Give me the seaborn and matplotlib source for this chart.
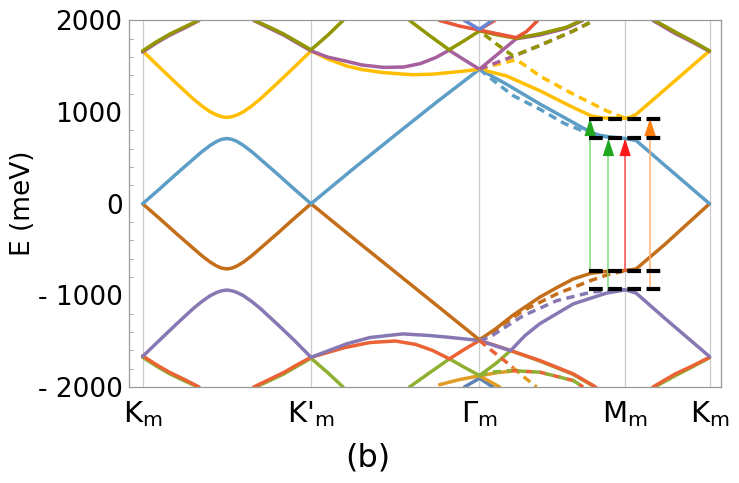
import numpy as np
import matplotlib
matplotlib.use('Agg')
import matplotlib.pyplot as plt
import seaborn as sns

# high-symmetry points along the path (units of |K|)
kpts = [0, 1, 2, 2.866, 3.366]
klabels = [r'K$_{\rm m}$', r"K'$_{\rm m}$", r'$\Gamma_{\rm m}$', r'M$_{\rm m}$', r'K$_{\rm m}$']
yticks = [-2000, -1000, 0, 1000, 2000]
ylabels = ['- 2000', '- 1000', '0', '1000', '2000']

# ---- solid bands (k, E in meV) ----
blue7 = [(0, 0), (0.1, 160), (0.2, 325), (0.3, 485), (0.35, 565), (0.4, 635), (0.44, 680), (0.47, 703),
         (0.5, 712), (0.53, 703), (0.56, 680), (0.6, 635), (0.65, 565), (0.7, 485), (0.8, 325),
         (0.9, 160), (1, 0), (1.25, 380), (1.5, 750), (1.75, 1115), (2, 1468), (2.16, 1305),
         (2.36, 1087), (2.557, 886), (2.663, 777), (2.72, 745), (2.77, 730), (2.866, 712),
         (2.93, 690), (3.1, 420), (3.366, 0)]
yellow8 = [(0, 1668), (0.1, 1490), (0.2, 1315), (0.3, 1145), (0.35, 1070), (0.4, 1005), (0.44, 968),
           (0.47, 950), (0.5, 942), (0.53, 950), (0.56, 968), (0.6, 1005), (0.65, 1070), (0.7, 1145),
           (0.8, 1315), (0.9, 1490), (1, 1668), (1.1, 1580), (1.21, 1504), (1.3, 1465), (1.43, 1431),
           (1.6, 1408), (1.72, 1414), (1.82, 1431), (1.92, 1450), (2, 1468), (2.16, 1395),
           (2.36, 1232), (2.557, 1050), (2.66, 962), (2.71, 942), (2.755, 935), (2.866, 932),
           (2.9, 948), (2.93, 975), (3.1, 1245), (3.366, 1668)]
magenta9_a = [(0, 1655), (0.08, 1752), (0.16, 1838), (0.25, 1918), (0.335, 2000)]
magenta9_b = [(0.66, 2000), (0.75, 1918), (0.84, 1838), (0.92, 1752), (1, 1668), (1.1, 1600),
              (1.21, 1555), (1.3, 1515), (1.43, 1488), (1.55, 1492), (1.65, 1530), (1.74, 1595),
              (1.82, 1675), (1.91, 1570), (2, 1468), (2.1, 1620), (2.218, 1800), (2.36, 1842),
              (2.515, 1915), (2.612, 2000)]
magenta9_c = [(3.03, 2000), (3.16, 1860), (3.27, 1758), (3.366, 1662)]
olive10_a = [(0, 1668), (0.08, 1765), (0.16, 1850), (0.25, 1930), (0.33, 2000)]
olive10_b = [(0.665, 2000), (0.75, 1930), (0.84, 1850), (0.92, 1765), (1, 1680), (1.1, 1840), (1.19, 2000)]
olive10_c = [(1.585, 2000), (1.7, 1840), (1.82, 1680), (1.91, 1780), (2, 1886), (2.1, 1845),
             (2.218, 1805), (2.36, 1855), (2.515, 1925), (2.605, 2000)]
olive10_d = [(3.04, 2000), (3.17, 1867), (3.27, 1770), (3.366, 1668)]
red11_a = [(1.763, 2000), (1.88, 1940), (2, 1895), (2.12, 1850), (2.218, 1813), (2.28, 1880), (2.346, 2000)]
red11_b = [(2, 1900), (2.09, 2000)]
blue12 = [(1.911, 2000), (2, 1903), (2.075, 2000)]

brown6 = [(0, 0), (0.1, -160), (0.2, -325), (0.3, -485), (0.35, -565), (0.4, -635), (0.44, -680),
          (0.47, -703), (0.5, -712), (0.53, -703), (0.56, -680), (0.6, -635), (0.65, -565),
          (0.7, -485), (0.8, -325), (0.9, -160), (1, 0), (1.25, -375), (1.5, -745), (1.75, -1115),
          (2, -1486), (2.1, -1360), (2.2, -1215), (2.357, -1021), (2.46, -915), (2.557, -821),
          (2.66, -760), (2.755, -738), (2.866, -728), (2.93, -712), (3.1, -445), (3.366, 0)]
purple5 = [(0, -1668), (0.1, -1490), (0.2, -1315), (0.3, -1145), (0.35, -1070), (0.4, -1005),
           (0.44, -968), (0.47, -950), (0.5, -942), (0.53, -950), (0.56, -968), (0.6, -1005),
           (0.65, -1070), (0.7, -1145), (0.8, -1315), (0.9, -1490), (1, -1676),
           (1.21, -1530), (1.35, -1460), (1.545, -1421), (1.7, -1438), (1.82, -1458), (2, -1492),
           (2.1, -1555), (2.185, -1603), (2.27, -1440), (2.357, -1311), (2.557, -1093),
           (2.755, -975), (2.866, -940), (2.93, -975), (3.1, -1250), (3.366, -1668)]
red4_a = [(0, -1660), (0.08, -1755), (0.16, -1840), (0.25, -1920), (0.335, -2000)]
red4_b = [(0.66, -2000), (0.75, -1920), (0.84, -1840), (0.92, -1755), (1, -1676), (1.2, -1570),
          (1.35, -1515), (1.5, -1498), (1.62, -1535), (1.72, -1600), (1.822, -1693), (1.91, -1590),
          (2, -1492), (2.1, -1550), (2.185, -1603), (2.36, -1712), (2.557, -1857), (2.69, -2000)]
red4_c = [(3.03, -2000), (3.16, -1860), (3.27, -1765), (3.366, -1676)]
green3_a = [(0, -1676), (0.08, -1770), (0.16, -1856), (0.25, -1935), (0.33, -2000)]
green3_b = [(0.67, -2000), (0.75, -1935), (0.84, -1856), (0.92, -1770), (1, -1686), (1.1, -1845), (1.19, -2000)]
green3_c = [(1.585, -2000), (1.7, -1850), (1.822, -1693), (1.91, -1785), (2, -1875), (2.1, -1740),
            (2.185, -1603), (2.36, -1718), (2.557, -1863), (2.685, -2000)]
green3_d = [(3.04, -2000), (3.17, -1870), (3.27, -1775), (3.366, -1680)]
orange2_a = [(1.763, -1975), (1.88, -1920), (2, -1878), (2.1, -1845), (2.2, -1825)]
orange2_b = [(2, -1878), (2.12, -2000)]
blue1 = [(1.911, -2000), (2, -1905), (2.08, -2000)]

# ---- dashed bands ----
blue7_d = [(2, 1468), (2.1, 1320), (2.2, 1180), (2.36, 1030), (2.5, 880), (2.62, 790), (2.7, 745),
           (2.8, 718), (2.866, 712)]
yellow8_d = [(2, 1468), (2.09, 1515), (2.16, 1545), (2.22, 1572), (2.29, 1485), (2.357, 1395),
             (2.557, 1196), (2.755, 1014), (2.835, 955), (2.866, 935)]
magenta9_d = [(2, 1468), (2.1, 1540), (2.2, 1608), (2.357, 1726), (2.557, 1886), (2.68, 2000)]
olive10_d2 = [(2, 1886), (2.1, 1745), (2.2, 1612), (2.357, 1726), (2.557, 1886), (2.68, 2000)]
brown6_d = [(2, -1486), (2.06, -1420), (2.26, -1166), (2.46, -984), (2.66, -839), (2.76, -775), (2.866, -730)]
purple5_d = [(2, -1492), (2.06, -1457), (2.26, -1221), (2.46, -1057), (2.66, -967), (2.76, -945), (2.866, -938)]
red4_d = [(2, -1492), (2.06, -1584), (2.16, -1730), (2.2, -1790)]
orange2_d = [(2.2, -1790), (2.27, -1900), (2.34, -2000)]
green3_d2 = [(2, -1875), (2.06, -1839), (2.19, -1821)]
redgreen_d = [(2.19, -1821), (2.36, -1839), (2.557, -1930), (2.616, -2000)]

# transition levels and arrows
lvl_E = [930, 712, -730, -930]
lvl_k = [2.653, 3.078]
arrow_k = [2.657, 2.766, 2.865, 3.013]
arrow_from = [-730, -930, -730, -930]
arrow_to = [930, 712, 712, 930]
arrow_head = ['#1fa81f', '#1fa81f', '#ff1a1a', '#ff7f0e']
arrow_shaft = ['#80dc80', '#80dc80', '#ff5555', '#ffb070']

C = {1: '#5E81B5', 2: '#E19C24', 3: '#8FB032', 4: '#EB6235', 5: '#8778B3', 6: '#C56E1A',
     7: '#5D9EC7', 8: '#FFBF00', 9: '#A5609D', 10: '#929600', 11: '#E95536', 12: '#6685D9'}

sns.set_style('white')
plt.rcParams['font.family'] = ['DejaVu Sans']
plt.rcParams['mathtext.default'] = 'regular'
plt.rcParams['text.color'] = 'black'

fig = plt.figure(figsize=(7.39, 4.83), dpi=100)
ax = fig.add_axes([0.1752, 0.1988, 0.8011, 0.7588])

for k in kpts:
    ax.axvline(k, color='#cccccc', lw=0.9, zorder=0)


def band(pts, color, dashed=False, offset=0, z=2):
    k, e = zip(*pts)
    ls = (offset, (2.4, 1.6)) if dashed else '-'
    sns.lineplot(x=list(k), y=list(e), ax=ax, color=color, lw=2.5, sort=False,
                 estimator=None, linestyle=ls, zorder=z)


# lower bands
band(blue1, C[1])
band(orange2_a, C[2]); band(orange2_b, C[2])
for seg in (green3_a, green3_b, green3_c, green3_d):
    band(seg, C[3])
for seg in (red4_a, red4_b, red4_c):
    band(seg, C[4])
band(purple5, C[5])
band(brown6, C[6])
# upper bands
band(blue7, C[7])
band(yellow8, C[8])
for seg in (magenta9_a, magenta9_b, magenta9_c):
    band(seg, C[9])
for seg in (olive10_a, olive10_b, olive10_c, olive10_d):
    band(seg, C[10])
band(red11_a, C[11]); band(red11_b, C[11])
band(blue12, C[12])

# dashed bands
band(blue7_d, C[7], dashed=True)
band(yellow8_d, C[8], dashed=True)
band(magenta9_d, C[9], dashed=True)
band(olive10_d2, C[10], dashed=True, offset=2.2)
band(brown6_d, C[6], dashed=True)
band(purple5_d, C[5], dashed=True)
band(red4_d, C[4], dashed=True)
band(orange2_d, C[2], dashed=True)
band(green3_d2, C[3], dashed=True)
band(redgreen_d, C[4], dashed=True)
band(redgreen_d, C[3], dashed=True, offset=2.2)

# arrows
head_len = 165
for k, e0, e1, ch, cs in zip(arrow_k, arrow_from, arrow_to, arrow_head, arrow_shaft):
    ax.plot([k, k], [e0, e1 - head_len + 20], color=cs, lw=1.1, zorder=5)
    ax.annotate('', xy=(k, e1), xytext=(k, e1 - head_len),
                arrowprops=dict(arrowstyle='-|>,head_length=1.1,head_width=0.36',
                                mutation_scale=10, color=ch, lw=0.8,
                                shrinkA=0, shrinkB=0), zorder=6)

# black dashed levels
for e in lvl_E:
    ax.plot(lvl_k, [e, e], color='black', lw=3, linestyle=(0, (3.3, 1.3)), zorder=7)

ax.set_xlim(-0.078, 3.437)
ax.set_ylim(-2000, 2000)
ax.set_xticks(kpts)
ax.set_xticklabels(klabels, fontsize=21)
ax.set_yticks(yticks)
ax.set_yticklabels(ylabels, fontsize=19)
ax.set_yticks(np.arange(-2000, 2001, 200), minor=True)
ax.tick_params(axis='y', which='major', direction='in', length=5, color='#999999', pad=5, labelcolor='black')
ax.tick_params(axis='y', which='minor', direction='in', length=3, color='#999999', left=True)
ax.tick_params(axis='x', direction='in', length=4, color='#999999', pad=9, labelcolor='black')
for sp in ax.spines.values():
    sp.set_color('#999999')
    sp.set_linewidth(0.9)
ax.set_ylabel('E (meV)', fontsize=19, color='black')
ax.yaxis.set_label_coords(-0.158, 0.5)
fig.text(368 / 739, 1 - 458 / 483, '(b)', fontsize=23, ha='center', va='center', color='black')

fig.savefig('out.png', dpi=100)
